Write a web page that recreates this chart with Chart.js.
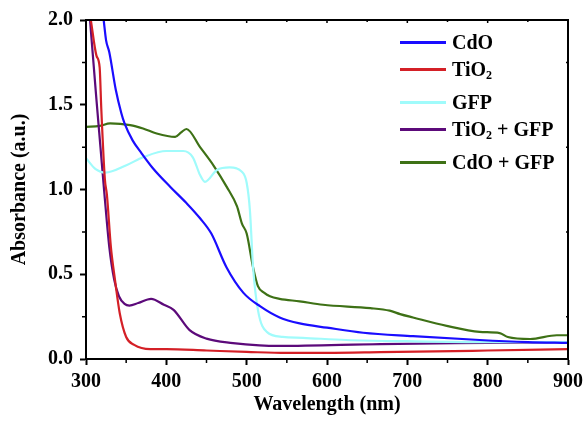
<!DOCTYPE html>
<html>
<head>
<meta charset="utf-8">
<script src="https://cdn.jsdelivr.net/npm/chart.js@4"></script>
<style>
  body { margin: 0; background: #fff; }
  #wrap { position: relative; width: 585px; height: 421px; }
  #legend { position: absolute; left: 400px; top: 0; font: bold 20px "Liberation Serif", "Times New Roman", serif; color: #000; }
  .row { position: absolute; left: 0; display: flex; align-items: center; white-space: nowrap; }
  .row .swatch { width: 46px; height: 3px; margin-right: 6px; }
  .row sub { font-size: 12px; position: relative; top: 3px; vertical-align: baseline; }
</style>
</head>
<body>
<div id="wrap">
  <canvas id="chart" width="585" height="421"></canvas>
  <div id="legend"></div>
</div>
<script>
// Absorbance spectra (wavelength in nm)
const cdoX = [322, 325, 329, 337, 344, 348, 358, 369, 383, 405, 425, 442, 456, 475, 496, 517, 541, 566, 600, 645, 707, 790, 850, 900];
const cdoY = [2.0, 1.88, 1.81, 1.59, 1.45, 1.39, 1.29, 1.215, 1.127, 1.015, 0.92, 0.83, 0.74, 0.54, 0.39, 0.31, 0.245, 0.21, 0.185, 0.155, 0.135, 0.112, 0.10, 0.095];

const tio2X = [306, 313, 317, 319, 323.5, 326, 331, 336, 342, 350, 360, 380, 400, 450, 500, 550, 600, 666, 800, 900];
const tio2Y = [2.0, 1.79, 1.72, 1.48, 1.06, 0.97, 0.66, 0.47, 0.27, 0.13, 0.083, 0.058, 0.058, 0.05, 0.042, 0.036, 0.036, 0.04, 0.05, 0.058];

const gfpX = [300, 312, 324, 351, 371, 400, 421, 433, 442, 448, 463, 479, 494, 500, 504, 508, 514, 525, 545, 570, 624, 700, 800, 900];
const gfpY = [1.185, 1.12, 1.10, 1.145, 1.19, 1.227, 1.227, 1.19, 1.085, 1.045, 1.115, 1.13, 1.105, 1.04, 0.88, 0.54, 0.29, 0.16, 0.13, 0.125, 0.112, 0.105, 0.10, 0.10];

const tio2GfpX = [305, 313, 318, 323, 329, 335, 341, 348, 354, 365, 381, 397, 409, 429, 450, 483, 516, 541, 666, 800, 900];
const tio2GfpY = [2.0, 1.53, 1.25, 0.97, 0.66, 0.47, 0.37, 0.325, 0.315, 0.33, 0.355, 0.32, 0.29, 0.17, 0.12, 0.094, 0.08, 0.077, 0.088, 0.095, 0.10];

const cdoGfpX = [300, 317, 330, 355, 371, 388, 411, 418, 425, 442, 459, 475, 488, 494, 500, 508, 514, 522, 529, 541, 566, 595, 654, 678, 691, 707, 749, 790, 815, 825, 853, 886, 900];
const cdoGfpY = [1.37, 1.375, 1.39, 1.38, 1.36, 1.33, 1.31, 1.335, 1.357, 1.25, 1.14, 1.017, 0.90, 0.80, 0.74, 0.54, 0.43, 0.39, 0.37, 0.355, 0.34, 0.32, 0.30, 0.285, 0.265, 0.245, 0.195, 0.16, 0.153, 0.13, 0.118, 0.14, 0.14];

const labels = ['CdO', 'TiO<sub>2</sub>', 'GFP', 'TiO<sub>2</sub> + GFP', 'CdO + GFP'];
const colors = ['#1a0dff', '#d42027', '#a0fbfb', '#5c0a7a', '#3e7116'];
const seriesX = [cdoX, tio2X, gfpX, tio2GfpX, cdoGfpX];
const seriesY = [cdoY, tio2Y, gfpY, tio2GfpY, cdoGfpY];

const FONT = '"Liberation Serif", "Times New Roman", serif';

const datasets = seriesX.map((xs, i) => ({
  label: labels[i].replace(/<\/?sub>/g, ''),
  data: xs.map((x, j) => ({ x: x, y: seriesY[i][j] })),
  borderColor: colors[i],
  borderWidth: 2.2,
  pointRadius: 0,
  fill: false,
  cubicInterpolationMode: 'monotone'
}));

// frame on top/right plus minor ticks
const framePlugin = {
  id: 'frame',
  afterDraw(chart) {
    const { ctx, chartArea: a, scales: { x, y } } = chart;
    ctx.save();
    ctx.strokeStyle = '#000';
    ctx.lineWidth = 2;
    ctx.strokeRect(a.left, a.top, a.right - a.left, a.bottom - a.top);
    ctx.lineWidth = 1.5;
    ctx.beginPath();
    for (let v = 350; v < 900; v += 100) {
      const px = x.getPixelForValue(v);
      ctx.moveTo(px, a.bottom); ctx.lineTo(px, a.bottom + 4);
      ctx.moveTo(px, a.top); ctx.lineTo(px, a.top + 2);
    }
    for (let v = 400; v < 900; v += 100) {
      const px = x.getPixelForValue(v);
      ctx.moveTo(px, a.top); ctx.lineTo(px, a.top + 3);
    }
    for (let v = 0.25; v < 2; v += 0.5) {
      const py = y.getPixelForValue(v);
      ctx.moveTo(a.left, py); ctx.lineTo(a.left - 4, py);
      ctx.moveTo(a.right, py); ctx.lineTo(a.right - 2, py);
    }
    ctx.stroke();
    ctx.restore();
  }
};

new Chart(document.getElementById('chart').getContext('2d'), {
  type: 'line',
  data: { datasets: datasets },
  options: {
    responsive: false,
    animation: false,
    layout: { padding: { top: 20, right: 17, left: 0, bottom: 0 } },
    plugins: { legend: { display: false }, tooltip: { enabled: false } },
    scales: {
      x: {
        type: 'linear',
        min: 300,
        max: 900,
        afterFit: s => { s.height = 62; s.paddingRight = 0; s.paddingLeft = 0; },
        ticks: { stepSize: 100, color: '#000', padding: 5, font: { family: FONT, size: 20, weight: 'bold' } },
        grid: { drawOnChartArea: false, tickLength: 6, tickWidth: 2, color: '#000' },
        border: { color: '#000', width: 2 },
        title: { display: true, text: 'Wavelength (nm)', color: '#000', padding: { top: 0, bottom: 4 }, font: { family: FONT, size: 20, weight: 'bold' } }
      },
      y: {
        min: 0,
        max: 2,
        afterFit: s => { s.width = 86; s.paddingTop = 0; s.paddingBottom = 0; },
        ticks: { stepSize: 0.5, color: '#000', padding: 7, callback: v => v.toFixed(1), font: { family: FONT, size: 20, weight: 'bold' } },
        grid: { drawOnChartArea: false, tickLength: 6, tickWidth: 2, color: '#000' },
        border: { color: '#000', width: 2 },
        title: { display: true, text: 'Absorbance (a.u.)', color: '#000', padding: { top: 8, bottom: 0 }, font: { family: FONT, size: 20, weight: 'bold' } }
      }
    }
  },
  plugins: [framePlugin]
});

// legend inside the plot, top right
const rowTops = [43, 70, 103, 130, 163];
document.getElementById('legend').innerHTML = labels.map((lab, i) =>
  `<div class="row" style="top:${rowTops[i] - 12}px"><span class="swatch" style="background:${colors[i]}"></span><span>${lab}</span></div>`
).join('');
</script>
</body>
</html>
